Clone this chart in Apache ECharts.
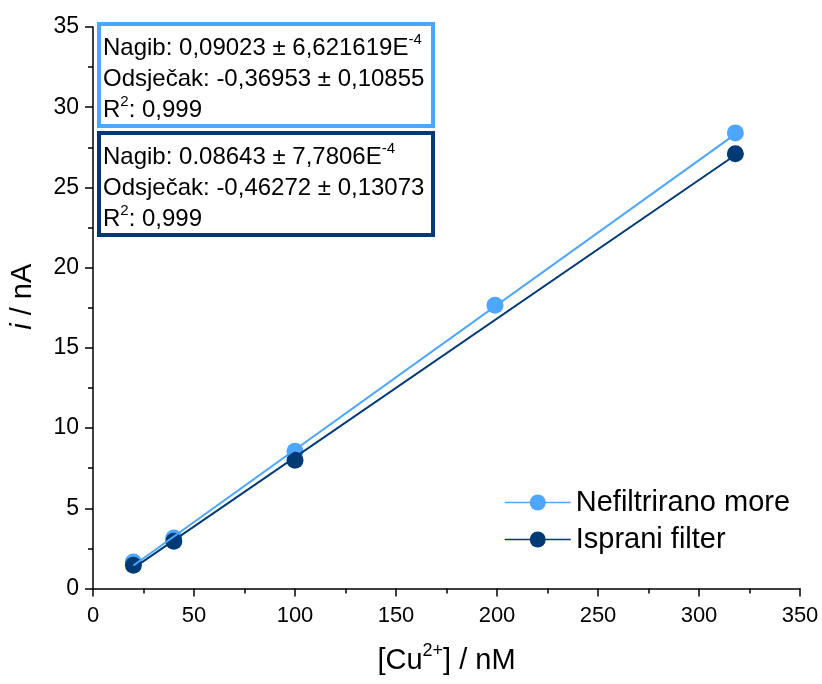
<!DOCTYPE html>
<html>
<head>
<meta charset="utf-8">
<script src="https://cdn.jsdelivr.net/npm/echarts@6/dist/echarts.min.js"></script>
<style>html,body{margin:0;padding:0;background:#fff}#c{width:822px;height:684px}</style>
</head>
<body>
<div id="c"></div>
<script>
// ---- data ----
const seriesNames = ['Nefiltrirano more', 'Isprani filter'];
const xLight = [20, 40, 100, 199, 318];
const yLight = [1.65, 3.15, 8.55, 17.65, 28.4];
const xDark = [20, 40, 100, 318];
const yDark = [1.45, 2.95, 8.0, 27.1];
const slopes = [0.09023, 0.08643];
const intercepts = [-0.36953, -0.46272];
const fitRange = [20, 318];
const xTicks = {min: 0, max: 350, interval: 50};
const yTicks = {min: 0, max: 35, interval: 5};
const boxTexts = [
  ['Nagib: 0,09023 ± 6,621619E', '-4', 'Odsječak: -0,36953 ± 0,10855', 'R', '2', ': 0,999'],
  ['Nagib: 0.08643 ± 7,7806E', '-4', 'Odsječak: -0,46272 ± 0,13073', 'R', '2', ': 0,999']
];

const cLight = '#4DA6FF';
const cDark = '#003A75';
const FONT = '"Liberation Sans", Arial, sans-serif';

function pts(xs, ys) { return xs.map((x, i) => [x, ys[i]]); }
function fitLine(k) { return fitRange.map(x => [x, slopes[k] * x + intercepts[k]]); }

const chart = echarts.init(document.getElementById('c'), null, {renderer: 'canvas'});

const richBox = {
  n: {fontSize: 24, fontFamily: FONT, color: '#000', lineHeight: 31},
  s: {fontSize: 15, fontFamily: FONT, color: '#000', padding: [0, 0, 17, 0], lineHeight: 31}
};
function boxStr(t) {
  return '{n|' + t[0] + '}{s|' + t[1] + '}\n{n|' + t[2] + '}\n{n|' + t[3] + '}{s|' + t[4] + '}{n|' + t[5] + '}';
}

const option = {
  animation: false,
  backgroundColor: '#fff',
  grid: {left: 93, right: 22, top: 27, bottom: 80, containLabel: false},
  xAxis: {
    type: 'value', min: xTicks.min, max: xTicks.max, interval: xTicks.interval,
    name: '{n|[Cu}{s|2+}{n|] / nM}', nameLocation: 'middle', nameGap: 55,
    nameTextStyle: {rich: {
      n: {fontSize: 29, fontFamily: FONT, color: '#000', lineHeight: 34},
      s: {fontSize: 18, fontFamily: FONT, color: '#000', padding: [0, 0, 19, 0], lineHeight: 34}
    }},
    axisLine: {lineStyle: {color: '#000', width: 1.5}},
    axisTick: {show: true, inside: false, length: 8, lineStyle: {color: '#000', width: 1.5}},
    minorTick: {show: true, splitNumber: 2, length: 5, lineStyle: {color: '#000', width: 1.5}},
    axisLabel: {fontSize: 22, fontFamily: FONT, color: '#000', margin: 16},
    splitLine: {show: false}
  },
  yAxis: {
    type: 'value', min: yTicks.min, max: yTicks.max, interval: yTicks.interval,
    name: '{i|i}{n| / nA}', nameLocation: 'middle', nameGap: 56,
    nameTextStyle: {padding: [0, 0, 0, 22], rich: {
      i: {fontSize: 29, fontFamily: FONT, color: '#000', fontStyle: 'italic'},
      n: {fontSize: 29, fontFamily: FONT, color: '#000'}
    }},
    axisLine: {lineStyle: {color: '#000', width: 1.5}},
    axisTick: {show: true, inside: false, length: 8, lineStyle: {color: '#000', width: 1.5}},
    minorTick: {show: true, splitNumber: 2, length: 5, lineStyle: {color: '#000', width: 1.5}},
    axisLabel: {fontSize: 23, fontFamily: FONT, color: '#000', margin: 14},
    splitLine: {show: false}
  },
  legend: {
    left: 504, top: 488, orient: 'vertical', itemWidth: 66, itemHeight: 20, itemGap: 8, padding: 0,
    textStyle: {fontSize: 29, fontFamily: FONT, color: '#000', lineHeight: 20},
    lineStyle: {opacity: 1, width: 1.5},
    data: seriesNames
  },
  series: [
    {name: seriesNames[0], type: 'line', data: pts(xLight, yLight), symbol: 'circle', symbolSize: 17,
     itemStyle: {color: cLight}, lineStyle: {opacity: 0, color: cLight}, z: 2},
    {name: seriesNames[1], type: 'line', data: pts(xDark, yDark), symbol: 'circle', symbolSize: 17,
     itemStyle: {color: cDark}, lineStyle: {opacity: 0, color: cDark}, z: 3},
    {name: 'fitDark', type: 'line', data: fitLine(1), showSymbol: false, symbol: 'none',
     lineStyle: {color: cDark, width: 2}, z: 4, silent: true},
    {name: 'fitLight', type: 'line', data: fitLine(0), showSymbol: false, symbol: 'none',
     lineStyle: {color: cLight, width: 2}, z: 5, silent: true}
  ],
  graphic: [
    {type: 'rect', shape: {x: 99, y: 24, width: 334, height: 102}, style: {fill: '#fff', stroke: cLight, lineWidth: 4}, z: 10},
    {type: 'text', x: 103, y: 33, style: {text: boxStr(boxTexts[0]), rich: richBox, font: '24px ' + FONT}, z: 11},
    {type: 'rect', shape: {x: 99, y: 133, width: 334, height: 102}, style: {fill: '#fff', stroke: cDark, lineWidth: 4}, z: 10},
    {type: 'text', x: 103, y: 142, style: {text: boxStr(boxTexts[1]), rich: richBox, font: '24px ' + FONT}, z: 11}
  ]
};
chart.setOption(option);
</script>
</body>
</html>
